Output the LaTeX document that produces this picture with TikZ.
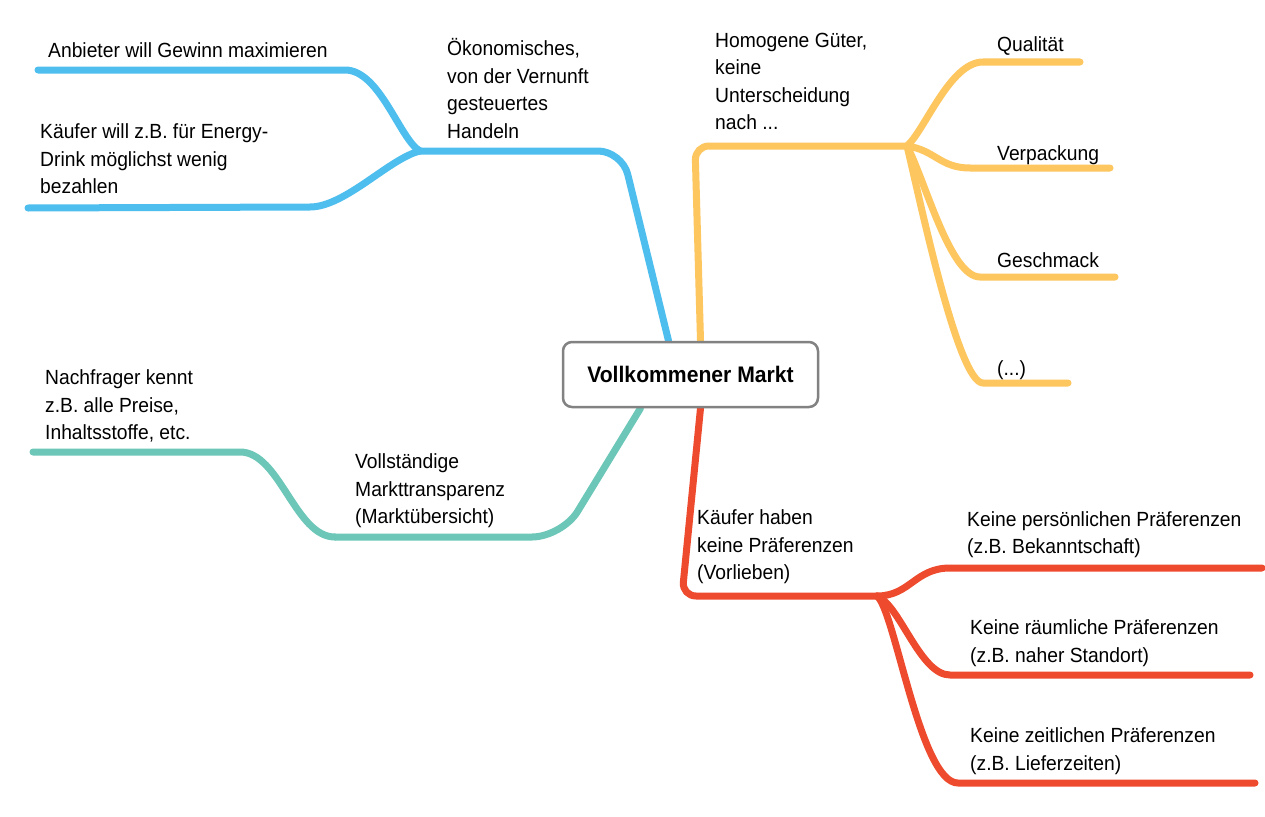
\documentclass[tikz,border=0pt]{standalone}
\usepackage{fontspec}
\setmainfont[FakeStretch=0.94]{Liberation Sans}
\usetikzlibrary{backgrounds}
\definecolor{cblue}{RGB}{77,190,238}
\definecolor{corange}{RGB}{253,198,95}
\definecolor{cteal}{RGB}{108,199,184}
\definecolor{cred}{RGB}{238,74,46}
\definecolor{cborder}{RGB}{130,130,130}
\begin{document}
\begin{tikzpicture}[x=1pt,y=-1pt,
  lbl/.style={anchor=north west, inner sep=0pt, align=left,
    font=\fontsize{20.5}{27.5}\selectfont, execute at begin node=\strut},
  core/.style={draw=cborder, line width=2.5pt, fill=white, rounded corners=9pt,
    minimum width=255pt, minimum height=65pt, inner sep=0pt,
    font=\fontsize{22.5}{25}\selectfont\bfseries},
  branch/.style={line width=7pt, line cap=round, line join=round}]
\useasboundingbox (0,0) rectangle (1265,816);
% centre
\node[core] (vm) at (690.5,374.5) {Vollkommener Markt};
% labels (top = first baseline - 19.25)
\node[lbl] (anb) at (48,38.25) {Anbieter will Gewinn maximieren};
\node[lbl] (oek) at (447,38.25) {Ökonomisches,\\von der Vernunft\\gesteuertes\\Handeln};
\node[lbl] (kae) at (40,123.75) {Käufer will z.B. für Energy-\\Drink möglichst wenig\\bezahlen};
\node[lbl] (hom) at (715,32.75) {Homogene Güter,\\keine\\Unterscheidung\\nach ...};
\node[lbl] (qua) at (997,31.75) {Qualität};
\node[lbl] (ver) at (997,140.75) {Verpackung};
\node[lbl] (ges) at (997,247.75) {Geschmack};
\node[lbl] (dts) at (997,355.75) {(...)};
\node[lbl] (nach) at (45,369.75) {Nachfrager kennt\\z.B. alle Preise,\\Inhaltsstoffe, etc.};
\node[lbl] (vst) at (355,453.75) {Vollständige\\Markttransparenz\\(Marktübersicht)};
\node[lbl] (kh) at (697,509.75) {Käufer haben\\keine Präferenzen\\(Vorlieben)};
\node[lbl] (kp) at (967,511.25) {Keine persönlichen Präferenzen\\(z.B. Bekanntschaft)};
\node[lbl] (kr) at (970,619.75) {Keine räumliche Präferenzen\\(z.B. naher Standort)};
\node[lbl] (kz) at (970,727.75) {Keine zeitlichen Präferenzen\\(z.B. Lieferzeiten)};
% junctions and free ends
\coordinate (bJ) at (420,151);
\coordinate (bA) at (38,70);
\coordinate (bK) at (28,208);
\coordinate (oJ) at (907,146);
\coordinate (oQ) at (1080,62);
\coordinate (oV) at (1110,168);
\coordinate (oG) at (1115,277);
\coordinate (oD) at (1068,383);
\coordinate (tN) at (33,452);
\coordinate (rJ) at (877,596);
\coordinate (rP) at (1262,568);
\coordinate (rR) at (1250,675);
\coordinate (rZ) at (1255,783);
\begin{pgfonlayer}{background}
\fill[white] (0,0) rectangle (1265,816);
% blue
\draw[branch,cblue,rounded corners=24pt] ([xshift=-22pt]vm.north) -- (622,151) -- (bJ);
\draw[branch,cblue] (bJ) .. controls (400,140) and (380,70) .. (345,70) -- (bA);
\draw[branch,cblue] (bJ) .. controls (390,158) and (345,207) .. (310,207) -- (bK);
% orange
\draw[branch,corange,rounded corners=14pt] ([xshift=10pt]vm.north) -- (695,146) -- (oJ);
\draw[branch,corange] (oJ) .. controls (925,130) and (950,62) .. (983,62) -- (oQ);
\draw[branch,corange] (oJ) .. controls (935,150) and (940,168) .. (970,168) -- (oV);
\draw[branch,corange] (oJ) .. controls (925,180) and (950,277) .. (980,277) -- (oG);
\draw[branch,corange] (oJ) .. controls (920,200) and (958,383) .. (983,383) -- (oD);
% teal
\draw[branch,cteal,rounded corners=30pt] ([xshift=-50pt]vm.south) -- (562,537) -- (335,537);
\draw[branch,cteal] (335,537) .. controls (295,537) and (280,452) .. (240,452) -- (tN);
% red
\draw[branch,cred,rounded corners=14pt] ([xshift=10pt]vm.south) -- (682,596) -- (rJ);
\draw[branch,cred] (rJ) .. controls (910,596) and (915,568) .. (950,568) -- (rP);
\draw[branch,cred] (rJ) .. controls (900,605) and (920,675) .. (950,675) -- (rR);
\draw[branch,cred] (rJ) .. controls (895,610) and (920,783) .. (958,783) -- (rZ);
\end{pgfonlayer}
\end{tikzpicture}
\end{document}
